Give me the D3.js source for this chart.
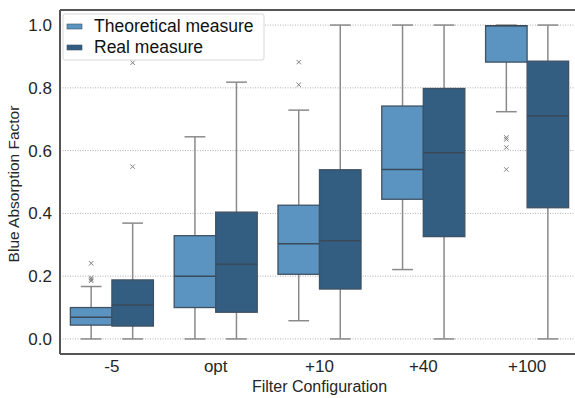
<!DOCTYPE html>
<html>
<head>
<meta charset="utf-8">
<script src="https://cdn.jsdelivr.net/npm/d3@7"></script>
<style>
  body { margin: 0; background: #fff; }
  svg { font-family: "Liberation Sans", Arial, sans-serif; }
</style>
</head>
<body>
<div id="chart"></div>
<script>
const categories = ['-5', 'opt', '+10', '+40', '+100']
const seriesNames = ['Theoretical measure', 'Real measure']
const seriesColors = ['#5b94c1', '#335d81']
const yTicks = [0, 0.2, 0.4, 0.6, 0.8, 1.0]

// [whiskerLow, q1, median, q3, whiskerHigh] per category
const theoretical = [
  [0.0, 0.044, 0.069, 0.100, 0.167],
  [0.0, 0.100, 0.200, 0.329, 0.644],
  [0.058, 0.206, 0.303, 0.426, 0.729],
  [0.221, 0.445, 0.540, 0.742, 1.0],
  [0.724, 0.882, 0.998, 0.998, 1.0]
]
const real = [
  [0.0, 0.041, 0.108, 0.188, 0.369],
  [0.0, 0.085, 0.238, 0.404, 0.818],
  [0.0, 0.159, 0.313, 0.539, 1.0],
  [0.0, 0.326, 0.593, 0.798, 1.0],
  [0.0, 0.418, 0.711, 0.885, 1.0]
]
const theoreticalOutliers = [
  [0.241, 0.195, 0.19, 0.185],
  [],
  [0.882, 0.81],
  [],
  [0.642, 0.636, 0.61, 0.54]
]
const realOutliers = [
  [0.549, 0.88],
  [],
  [],
  [],
  []
]

const width = 575, height = 398
const margin = {top: 10, right: -4, bottom: 44, left: 60}

const svg = d3.select('#chart').append('svg')
  .attr('width', width)
  .attr('height', height)

const x = d3.scaleBand()
  .domain(categories)
  .range([margin.left, width - margin.right])

const hue = d3.scaleBand()
  .domain(seriesNames)
  .range([0, x.bandwidth() * 0.8])

const y = d3.scaleLinear()
  .domain([-0.048, 1.048])
  .range([height - margin.bottom, margin.top])

// grid
svg.append('g')
  .selectAll('line')
  .data(yTicks)
  .join('line')
    .attr('x1', margin.left)
    .attr('x2', width)
    .attr('y1', d => y(d))
    .attr('y2', d => y(d))
    .attr('stroke', '#b0b0b0')
    .attr('stroke-width', 1)
    .attr('stroke-dasharray', '1,1.5')

const series = [
  {name: seriesNames[0], color: seriesColors[0], stats: theoretical, outliers: theoreticalOutliers},
  {name: seriesNames[1], color: seriesColors[1], stats: real, outliers: realOutliers}
]

const boxes = []
series.forEach(s => {
  categories.forEach((c, i) => {
    boxes.push({cat: c, series: s.name, color: s.color, stats: s.stats[i], outliers: s.outliers[i]})
  })
})

const off = x.bandwidth() * 0.1
const bw = hue.bandwidth()
const capW = bw * 0.5
const g = svg.append('g')

const box = g.selectAll('g.box')
  .data(boxes)
  .join('g')
    .attr('class', 'box')
    .attr('transform', d => `translate(${x(d.cat) + off + hue(d.series)},0)`)

// whiskers
box.append('line')
  .attr('x1', bw / 2).attr('x2', bw / 2)
  .attr('y1', d => y(d.stats[0])).attr('y2', d => y(d.stats[1]))
  .attr('stroke', '#8a8a8a').attr('stroke-width', 1.5)
box.append('line')
  .attr('x1', bw / 2).attr('x2', bw / 2)
  .attr('y1', d => y(d.stats[3])).attr('y2', d => y(d.stats[4]))
  .attr('stroke', '#8a8a8a').attr('stroke-width', 1.5)
// caps
box.selectAll('line.cap')
  .data(d => [d.stats[0], d.stats[4]])
  .join('line')
    .attr('class', 'cap')
    .attr('x1', bw / 2 - capW / 2).attr('x2', bw / 2 + capW / 2)
    .attr('y1', v => y(v)).attr('y2', v => y(v))
    .attr('stroke', '#8a8a8a').attr('stroke-width', 1.5)

box.append('rect')
  .attr('x', 0)
  .attr('width', bw)
  .attr('y', d => y(d.stats[3]))
  .attr('height', d => y(d.stats[1]) - y(d.stats[3]))
  .attr('fill', d => d.color)
  .attr('stroke', '#3f5264')
  .attr('stroke-width', 1.3)

box.append('line')
  .attr('x1', 0).attr('x2', bw)
  .attr('y1', d => y(d.stats[2])).attr('y2', d => y(d.stats[2]))
  .attr('stroke', '#3a4a58').attr('stroke-width', 1.5)

// outliers as small crosses
box.selectAll('path.flier')
  .data(d => d.outliers)
  .join('path')
    .attr('class', 'flier')
    .attr('d', v => {
      const cx = bw / 2, cy = y(v), r = 2.2
      return `M${cx - r},${cy - r}L${cx + r},${cy + r}M${cx - r},${cy + r}L${cx + r},${cy - r}`
    })
    .attr('stroke', '#808080')
    .attr('stroke-width', 1)

// axes
const yAxis = svg.append('g')
  .attr('transform', `translate(${margin.left},0)`)
  .call(d3.axisLeft(y).tickValues(yTicks).tickFormat(d3.format('.1f')).tickSize(0).tickPadding(8))
yAxis.select('.domain').remove()
yAxis.selectAll('text').attr('font-size', 17).attr('fill', '#262626')

const xAxis = svg.append('g')
  .attr('transform', `translate(0,${height - margin.bottom})`)
  .call(d3.axisBottom(x).tickSize(0).tickPadding(6))
xAxis.select('.domain').remove()
xAxis.selectAll('text').attr('font-size', 17).attr('fill', '#262626')

// spines
svg.append('line')
  .attr('x1', margin.left).attr('x2', margin.left)
  .attr('y1', margin.top).attr('y2', height - margin.bottom)
  .attr('stroke', '#555').attr('stroke-width', 2)
svg.append('line')
  .attr('x1', margin.left).attr('x2', width)
  .attr('y1', height - margin.bottom).attr('y2', height - margin.bottom)
  .attr('stroke', '#555').attr('stroke-width', 2)
svg.append('line')
  .attr('x1', margin.left).attr('x2', width)
  .attr('y1', margin.top).attr('y2', margin.top)
  .attr('stroke', '#555').attr('stroke-width', 2)

// titles
svg.append('text')
  .attr('x', (margin.left + width - margin.right) / 2)
  .attr('y', 392)
  .attr('text-anchor', 'middle')
  .attr('font-size', 16)
  .attr('fill', '#262626')
  .text('Filter Configuration')

svg.append('text')
  .attr('transform', `translate(19,${y(0.5) + 2}) rotate(-90)`)
  .attr('text-anchor', 'middle')
  .attr('font-size', 15.5)
  .attr('fill', '#262626')
  .text('Blue Absorption Factor')

// legend
const legend = svg.append('g').attr('transform', 'translate(63,14)')
legend.append('rect')
  .attr('width', 201).attr('height', 46).attr('rx', 2)
  .attr('fill', '#fff').attr('fill-opacity', 0.85)
  .attr('stroke', '#d8d8d8')
const item = legend.selectAll('g.item')
  .data(series)
  .join('g')
    .attr('class', 'item')
    .attr('transform', (d, i) => `translate(4,${12 + i * 21})`)
item.append('rect')
  .attr('x', 0).attr('y', -2).attr('width', 15).attr('height', 5)
  .attr('fill', d => d.color).attr('stroke', '#3f5264').attr('stroke-width', 0.6)
item.append('text')
  .attr('x', 27).attr('y', 6)
  .attr('font-size', 17.5)
  .attr('fill', '#111')
  .text(d => d.name)
</script>
</body>
</html>
